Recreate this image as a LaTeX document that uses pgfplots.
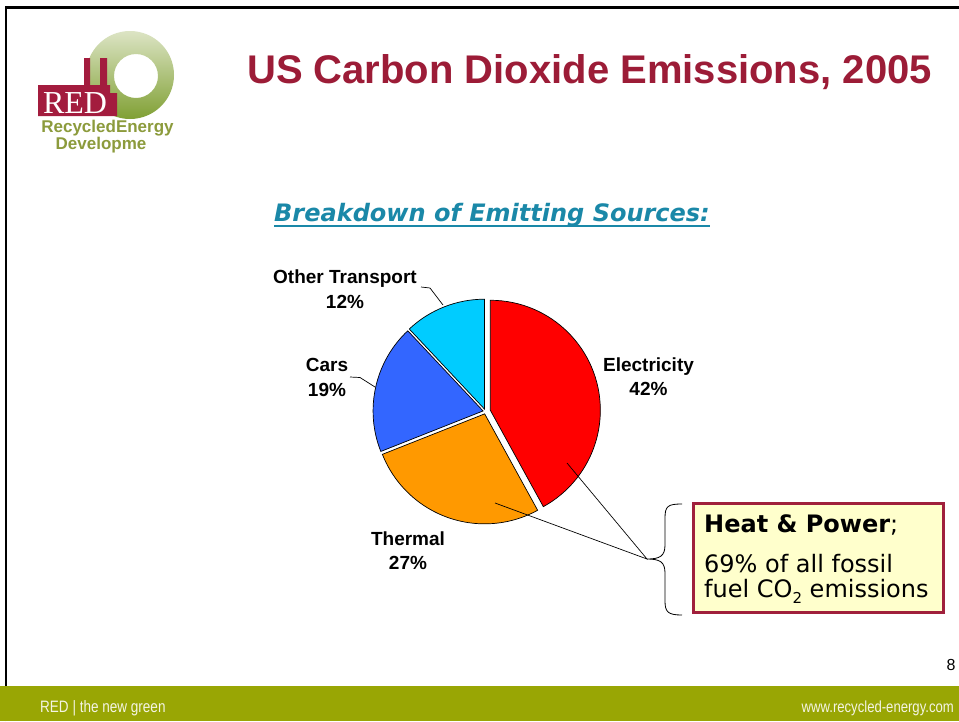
\documentclass[border=0pt]{standalone}
\usepackage{pgfplots}
\pgfplotsset{compat=1.18}
\usepackage{pgfplotstable}
\usepackage{fontspec}
\setmainfont{Liberation Sans}
\newfontfamily\dejavu{DejaVu Sans}
\newfontfamily\libserif{Liberation Serif}
\definecolor{titlered}{RGB}{156,28,55}
\definecolor{subblue}{RGB}{26,136,168}
\definecolor{boxfill}{RGB}{255,255,204}
\definecolor{boxred}{RGB}{160,32,60}
\definecolor{footgreen}{RGB}{153,166,4}
\definecolor{foottext}{RGB}{244,244,228}
\definecolor{logogreen}{RGB}{140,155,60}
\definecolor{ringlight}{RGB}{220,228,196}
\definecolor{ringdark}{RGB}{128,160,52}
\definecolor{factred}{RGB}{163,28,62}
\definecolor{sElec}{RGB}{255,0,0}
\definecolor{sTherm}{RGB}{255,153,0}
\definecolor{sCars}{RGB}{51,102,255}
\definecolor{sOther}{RGB}{0,204,255}

\pgfplotstableread{
label value explode
Electricity 42 5
Thermal 27 2.5
Cars 19 2.5
Other 12 2.5
}\piedata

\begin{document}
\begin{tikzpicture}
\pgfplotstablegetelem{0}{value}\of\piedata \edef\vA{\pgfplotsretval}
\pgfplotstablegetelem{1}{value}\of\piedata \edef\vB{\pgfplotsretval}
\pgfplotstablegetelem{2}{value}\of\piedata \edef\vC{\pgfplotsretval}
\pgfplotstablegetelem{3}{value}\of\piedata \edef\vD{\pgfplotsretval}
\pgfplotstablegetelem{0}{explode}\of\piedata \edef\eA{\pgfplotsretval}
\pgfplotstablegetelem{1}{explode}\of\piedata \edef\eB{\pgfplotsretval}
\pgfplotstablegetelem{2}{explode}\of\piedata \edef\eC{\pgfplotsretval}
\pgfplotstablegetelem{3}{explode}\of\piedata \edef\eD{\pgfplotsretval}
\pgfmathsetmacro\sA{90}
\pgfmathsetmacro\sB{\sA-3.6*\vA}
\pgfmathsetmacro\sC{\sB-3.6*\vB}
\pgfmathsetmacro\sD{\sC-3.6*\vC}
\pgfmathsetmacro\sE{\sD-3.6*\vD}
\pgfmathsetmacro\mA{(\sA+\sB)/2}
\pgfmathsetmacro\mB{(\sB+\sC)/2}
\pgfmathsetmacro\mC{(\sC+\sD)/2}
\pgfmathsetmacro\mD{(\sD+\sE)/2}
\fill[white] (0,0) rectangle (959pt,721pt);
\begin{axis}[at={(0,0)}, anchor=south west, width=959pt, height=721pt,
  scale only axis, xmin=0, xmax=959, ymin=0, ymax=721, y dir=reverse,
  axis lines=none, clip=false, enlargelimits=false]
% borders
\draw[line width=2.5pt, black] (6,721) -- (6,7.5) -- (959,7.5);
% footer
\fill[footgreen] (0,686) rectangle (959,721);
\node[anchor=west, inner sep=0, text=foottext] at (40,708)
  {\scalebox{0.82}[1]{\fontsize{16.5}{16.5}\selectfont RED | the new green}};
\node[anchor=east, inner sep=0, text=foottext] at (954,708)
  {\scalebox{0.82}[1]{\fontsize{16}{16}\selectfont www.recycled-energy.com}};
\node[inner sep=0, font=\fontsize{16}{16}\selectfont] at (951,665) {8};
% logo
\shade[even odd rule, shading angle=60, top color=ringlight, bottom color=ringdark]
  (130,75) circle[radius=44pt] (136,76) circle[radius=22pt];
\fill[factred] (38,85) -- (84,85) -- (84,58) -- (90,58) -- (90,85) -- (100,85) -- (100,58)
  -- (107,58) -- (107,85) -- (110,85) -- (110,93) -- (117,93) -- (117,116) -- (38,116) -- cycle;
\node[anchor=base, inner sep=0, text=white, font=\libserif\fontsize{32}{32}\selectfont]
  at (75,113) {RED};
\node[inner sep=0, text=logogreen, font=\bfseries\fontsize{17}{17}\selectfont]
  at (107.5,128) {RecycledEnergy};
\node[inner sep=0, text=logogreen, font=\bfseries\fontsize{17}{17}\selectfont]
  at (101,145) {Developme};
% title
\node[anchor=base west, inner sep=0, text=titlered, font=\bfseries\fontsize{40}{40}\selectfont]
  at (247,83) {US Carbon Dioxide Emissions, 2005};
\node[anchor=base west, inner sep=0, text=subblue, font=\dejavu\bfseries\itshape\fontsize{24}{24}\selectfont]
  (sub) at (274,221) {Breakdown of Emitting Sources:};
\draw[subblue, line width=2pt] ([yshift=-5pt]sub.base west) -- ([yshift=-5pt]sub.base east);
% pie
\filldraw[fill=sElec, draw=black, line width=0.7pt]
  ([shift={(\mA:\eA pt)}]axis cs:485.5,411.5) -- ++(\sA:110pt) arc[start angle=\sA, end angle=\sB, radius=110pt] -- cycle;
\filldraw[fill=sTherm, draw=black, line width=0.7pt]
  ([shift={(\mB:\eB pt)}]axis cs:485.5,411.5) -- ++(\sB:110pt) arc[start angle=\sB, end angle=\sC, radius=110pt] -- cycle;
\filldraw[fill=sCars, draw=black, line width=0.7pt]
  ([shift={(\mC:\eC pt)}]axis cs:485.5,411.5) -- ++(\sC:110pt) arc[start angle=\sC, end angle=\sD, radius=110pt] -- cycle;
\filldraw[fill=sOther, draw=black, line width=0.7pt]
  ([shift={(\mD:\eD pt)}]axis cs:485.5,411.5) -- ++(\sD:110pt) arc[start angle=\sD, end angle=\sE, radius=110pt] -- cycle;
% labels
\node[align=center, font=\bfseries\fontsize{19}{24.5}\selectfont] at (345,289) {Other Transport\\12\%};
\node[align=center, font=\bfseries\fontsize{19}{24.5}\selectfont] at (327,377.5) {Cars\\19\%};
\node[align=center, font=\bfseries\fontsize{19}{24.5}\selectfont] at (648.5,376.5) {Electricity\\42\%};
\node[align=center, font=\bfseries\fontsize{19}{24.5}\selectfont] at (408,550.5) {Thermal\\27\%};
\draw[line width=0.7pt] (421,287) -- (430,288) -- (443,305);
\draw[line width=0.7pt] (350,377) -- (360,377.5) -- (375,387);
\draw[line width=0.7pt] (495,503) -- (647,559) -- (567,463);
% brace
\draw[line width=0.8pt] (682,504) .. controls (668,504) and (665,506) .. (665,518) -- (665,545)
  .. controls (665,556) and (660,559) .. (647,559)
  .. controls (660,559) and (665,562) .. (665,573) -- (665,601)
  .. controls (665,612) and (668,615) .. (682,615);
% box
\filldraw[fill=boxfill, draw=boxred, line width=3pt] (693,503) rectangle (943,612);
\node[anchor=base west, inner sep=0, font=\dejavu\fontsize{24}{24}\selectfont] at (704,532)
  {\textbf{Heat \& Power};};
\node[anchor=base west, inner sep=0, font=\dejavu\fontsize{24}{24}\selectfont] at (704,572)
  {69\% of all fossil};
\node[anchor=base west, inner sep=0, font=\dejavu\fontsize{24}{24}\selectfont] at (704,597)
  {fuel CO\raisebox{-0.28em}{\fontsize{15}{15}\selectfont 2} emissions};
\end{axis}
\pgfresetboundingbox
\path (0,0) rectangle (959pt,721pt);
\end{tikzpicture}
\end{document}
